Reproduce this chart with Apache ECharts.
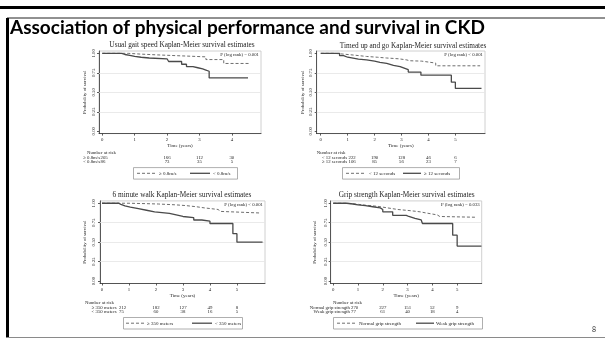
<!DOCTYPE html>
<html><head><meta charset="utf-8">
<script src="https://cdn.jsdelivr.net/npm/echarts@6/dist/echarts.min.js"></script>
<style>html,body{margin:0;padding:0;background:#fff}#c{width:605px;height:343px}</style>
</head><body><div id="c"></div>
<script>
// ---------------- DATA ----------------
const slideTitle = 'Association of physical performance and survival in CKD';
const pageNumber = '8';
const panelTitles = [
  'Usual gait speed Kaplan-Meier survival estimates',
  'Timed up and go Kaplan-Meier survival estimates',
  '6 minute walk Kaplan-Meier survival estimates',
  'Grip strength Kaplan-Meier survival estimates'
];
const pValues = ['P (log rank) = 0.001', 'P (log rank) < 0.001', 'P (log rank) < 0.001', 'P (log rank) = 0.033'];
const groupNames = [
  ['\u2265 0.8m/s', '< 0.8m/s'],
  ['< 12 seconds', '\u2265 12 seconds'],
  ['\u2265 350 meters', '< 350 meters'],
  ['Normal grip strength', 'Weak grip strength']
];
const xTicks = [[0,1,2,3,4],[0,1,2,3,4,5],[0,1,2,3,4,5],[0,1,2,3,4,5]];
const yTicks = [0, 0.25, 0.5, 0.75, 1];
const yTickLabels = ['0.00', '0.25', '0.50', '0.75', '1.00'];
const xAxisTitle = 'Time (years)';
const yAxisTitle = 'Probability of survival';
const riskTitle = 'Number at risk';

// Kaplan-Meier steps: [time, survival after the step]
const gaitFast = [[0,1],[0.8,0.99],[1.2,0.98],[1.7,0.97],[2.3,0.96],[2.9,0.955],[3.2,0.92],[3.75,0.87],[4.57,0.87]];
const gaitSlow = [[0,1],[0.6,0.985],[0.7,0.975],[0.85,0.96],[1.0,0.95],[1.2,0.94],[1.45,0.93],[2.0,0.91],[2.05,0.895],[2.45,0.86],[2.6,0.83],[2.8,0.815],[2.95,0.8],[3.1,0.785],[3.2,0.77],[3.3,0.685],[4.5,0.685]];
const tugFast = [[0,1],[0.5,0.99],[0.85,0.975],[1.3,0.96],[1.7,0.95],[2.1,0.94],[2.45,0.93],[2.9,0.915],[3.2,0.905],[3.3,0.9],[3.75,0.875],[4.27,0.84],[5.92,0.84]];
const tugSlow = [[0,1],[0.7,0.97],[0.85,0.95],[1.0,0.925],[1.4,0.915],[1.7,0.9],[2.0,0.885],[2.2,0.87],[2.45,0.845],[2.7,0.83],[2.95,0.81],[3.1,0.79],[3.25,0.76],[3.72,0.72],[4.85,0.63],[5.0,0.55],[5.97,0.55]];
const walkLong = [[0,1],[1.0,0.995],[1.6,0.99],[2.1,0.98],[2.7,0.97],[3.1,0.955],[3.5,0.94],[3.8,0.92],[4.3,0.895],[4.4,0.875],[5.85,0.875]];
const walkShort = [[0,1],[0.62,0.985],[0.7,0.965],[0.85,0.95],[1.05,0.93],[1.35,0.91],[1.65,0.89],[1.95,0.87],[2.5,0.85],[2.75,0.83],[3.0,0.815],[3.4,0.785],[3.7,0.77],[4.0,0.74],[4.85,0.61],[5.0,0.5],[5.95,0.5]];
const gripNormal = [[0,1],[0.5,0.99],[0.9,0.975],[1.3,0.96],[1.8,0.94],[2.2,0.92],[2.6,0.905],[3.1,0.89],[3.5,0.875],[3.75,0.85],[4.2,0.83],[4.3,0.82],[5.78,0.82]];
const gripWeak = [[0,1],[0.55,0.99],[0.8,0.98],[1.0,0.97],[1.3,0.955],[1.6,0.94],[1.9,0.92],[2.0,0.89],[2.4,0.845],[2.95,0.83],[3.05,0.805],[3.3,0.785],[3.55,0.765],[3.6,0.74],[4.82,0.59],[5.0,0.45],[5.98,0.45]];

// number at risk (first value follows the row label, the rest sit at riskTimes)
const riskTimes = [[2,3,4],[2,3,4,5],[2,3,4,5],[2,3,4,5]];
const gaitFastRisk = [205,166,112,30];
const gaitSlowRisk = [86,73,35,5];
const tugFastRisk = [222,190,128,46,6];
const tugSlowRisk = [106,85,56,23,7];
const walkLongRisk = [212,182,127,49,8];
const walkShortRisk = [75,60,38,16,5];
const gripNormalRisk = [270,227,151,52,9];
const gripWeakRisk = [77,61,40,18,4];

// ---------------- LAYOUT ----------------
const dashedSets = [gaitFast, tugFast, walkLong, gripNormal];
const solidSets = [gaitSlow, tugSlow, walkShort, gripWeak];
const riskSets = [[gaitFastRisk, gaitSlowRisk],[tugFastRisk, tugSlowRisk],[walkLongRisk, walkShortRisk],[gripNormalRisk, gripWeakRisk]];

const P = [
  {left:99,    top:51,    width:162,   height:82.6, xMin:-0.1,   xMax:4.9,  nameGap:11.5, lblMargin:3, title:[182,45.5],
   nar:{x:87, labR:100, first:100.5}, leg:{l:133, r:237, d:[137,157], t1:159, s:[190,210], t2:213}},
  {left:316.7, top:51,    width:168.3, height:82.6, xMin:-0.15,  xMax:6.1,  nameGap:11,   lblMargin:3, title:[413,46],
   nar:{x:316.7, labR:347, first:348.5}, leg:{l:342, r:459, d:[346,366], t1:369, s:[403,421], t2:424}},
  {left:100,   top:200.9, width:165,   height:82.6, xMin:-0.074, xMax:6.04, nameGap:12.5, lblMargin:4, title:[182,195.5],
   nar:{x:85, labR:116.7, first:119}, leg:{l:123, r:242, d:[126,144], t1:147, s:[192,212], t2:215}},
  {left:330.7, top:200.9, width:151,   height:82.6, xMin:-0.1,   xMax:5.99, nameGap:13,   lblMargin:2.5, title:[406.7,195.5],
   nar:{x:333, labR:350, first:351}, leg:{l:333, r:482, d:[337,357], t1:359, s:[416,434], t2:436}}
];

const serif = 'Liberation Serif';
const TXT = '#1e1e1e';
const SMALL = 4.8;

const chart = echarts.init(document.getElementById('c'), null, {renderer: 'canvas'});

const series = [];
P.forEach((p, i) => {
  series.push({
    type: 'line', xAxisIndex: i, yAxisIndex: i, step: 'end', data: dashedSets[i],
    showSymbol: false, symbol: 'none', z: 3,
    lineStyle: {color: '#6e6e6e', width: 1, type: [3, 2]},
    markLine: {silent: true, symbol: 'none', z: 1, label: {show: false},
      lineStyle: {color: '#e4e4e4', width: 0.8, type: 'solid'},
      data: yTicks.filter(v => v > 0 && v < 1).map(v => ({yAxis: v}))}
  });
  series.push({
    type: 'line', xAxisIndex: i, yAxisIndex: i, step: 'end', data: solidSets[i],
    showSymbol: false, symbol: 'none', z: 4,
    lineStyle: {color: '#4a4a4a', width: 1.3, type: 'solid'}
  });
});

chart.setOption({
  animation: false,
  backgroundColor: '#fff',
  grid: P.map(p => ({left: p.left, top: p.top, width: p.width, height: p.height, show: true,
    borderColor: '#c4c4c4', borderWidth: 0.8, backgroundColor: 'transparent', outerBoundsMode: 'none', containLabel: false})),
  xAxis: P.map((p, i) => ({
    type: 'value', gridIndex: i, min: p.xMin, max: p.xMax,
    splitLine: {show: false},
    axisLine: {show: true, onZero: false, lineStyle: {color: '#333', width: 0.8}},
    axisTick: {show: true, customValues: xTicks[i], length: 2, lineStyle: {color: '#333', width: 0.8}},
    axisLabel: {show: true, customValues: xTicks[i], margin: 3.5, fontFamily: serif, fontSize: SMALL, color: TXT,
      formatter: v => String(v)},
    name: xAxisTitle, nameLocation: 'middle', nameGap: 10,
    nameTextStyle: {fontFamily: serif, fontSize: 5, color: TXT}
  })),
  yAxis: P.map((p, i) => ({
    type: 'value', gridIndex: i, min: -0.03, max: 1.03,
    splitLine: {show: false},
    axisLine: {show: true, onZero: false, lineStyle: {color: '#333', width: 0.8}},
    axisTick: {show: true, customValues: yTicks, length: 2, lineStyle: {color: '#333', width: 0.8}},
    axisLabel: {show: true, customValues: yTicks, rotate: 90, margin: p.lblMargin, fontFamily: serif, fontSize: SMALL, color: TXT,
      formatter: v => { const k = yTicks.findIndex(t => Math.abs(t - v) < 1e-6); return k >= 0 ? yTickLabels[k] : ''; }},
    name: yAxisTitle, nameLocation: 'middle', nameGap: p.nameGap, nameRotate: 90,
    nameTextStyle: {fontFamily: serif, fontSize: SMALL, color: TXT}
  })),
  series: series
});

// ---------------- GRAPHICS (slide + risk tables + legends) ----------------
const ctx = document.createElement('canvas').getContext('2d');
ctx.font = 'bold 20px Lato';
const titleSize = 20 * 475 / ctx.measureText(slideTitle).width;

const g = [];
g.push({type: 'rect', shape: {x: 0, y: 6, width: 605, height: 3}, style: {fill: '#000'}, z: 10});
g.push({type: 'line', shape: {x1: 7, y1: 18, x2: 605, y2: 18}, style: {stroke: '#222', lineWidth: 1}, z: 10});
g.push({type: 'rect', shape: {x: 6, y: 18, width: 3, height: 319.5}, style: {fill: '#000'}, z: 10});
g.push({type: 'line', shape: {x1: 7, y1: 337.5, x2: 605, y2: 337.5}, style: {stroke: '#8a8a8a', lineWidth: 1}, z: 10});
g.push({type: 'text', x: 10, y: 27.6, z: 10, style: {text: slideTitle, fontFamily: 'Lato', fontWeight: 'bold', fontSize: titleSize, fill: '#000', align: 'left', verticalAlign: 'middle'}});
g.push({type: 'text', x: 594, y: 330, z: 10, style: {text: pageNumber, fontFamily: 'Lato', fontSize: 7, fill: '#333', align: 'center', verticalAlign: 'middle'}});

P.forEach((p, i) => {
  const fb = p.top + p.height;
  // panel title
  g.push({type: 'text', x: p.title[0], y: p.title[1], style: {text: panelTitles[i], fontFamily: serif, fontSize: 7.3, fill: TXT, align: 'center', verticalAlign: 'middle'}});
  // p value
  g.push({type: 'text', x: p.left + p.width - 2, y: p.top + 3.6, style: {text: pValues[i], fontFamily: serif, fontSize: SMALL, fill: TXT, align: 'right', verticalAlign: 'middle'}});
  // number at risk
  g.push({type: 'text', x: p.nar.x, y: fb + 19, style: {text: riskTitle, fontFamily: serif, fontSize: SMALL, fill: TXT, align: 'left', verticalAlign: 'middle'}});
  const rowY = [fb + 24, fb + 28.5];
  riskSets[i].forEach((vals, r) => {
    g.push({type: 'text', x: p.nar.labR, y: rowY[r], style: {text: groupNames[i][r], fontFamily: serif, fontSize: SMALL, fill: TXT, align: 'right', verticalAlign: 'middle'}});
    g.push({type: 'text', x: p.nar.first, y: rowY[r], style: {text: String(vals[0]), fontFamily: serif, fontSize: SMALL, fill: TXT, align: 'left', verticalAlign: 'middle'}});
    riskTimes[i].forEach((t, k) => {
      const px = chart.convertToPixel({xAxisIndex: i}, t);
      g.push({type: 'text', x: px, y: rowY[r], style: {text: String(vals[k + 1]), fontFamily: serif, fontSize: SMALL, fill: TXT, align: 'center', verticalAlign: 'middle'}});
    });
  });
  // legend
  const L = p.leg, ly = fb + 39.7;
  g.push({type: 'rect', shape: {x: L.l + 0.5, y: fb + 34, width: L.r - L.l, height: 11.5}, style: {fill: 'none', stroke: '#9a9a9a', lineWidth: 0.8}});
  g.push({type: 'line', shape: {x1: L.d[0], y1: ly, x2: L.d[1], y2: ly}, style: {stroke: '#6e6e6e', lineWidth: 1, lineDash: [3, 2]}});
  g.push({type: 'text', x: L.t1, y: ly, style: {text: groupNames[i][0], fontFamily: serif, fontSize: 5, fill: TXT, align: 'left', verticalAlign: 'middle'}});
  g.push({type: 'line', shape: {x1: L.s[0], y1: ly, x2: L.s[1], y2: ly}, style: {stroke: '#4a4a4a', lineWidth: 1.3}});
  g.push({type: 'text', x: L.t2, y: ly, style: {text: groupNames[i][1], fontFamily: serif, fontSize: 5, fill: TXT, align: 'left', verticalAlign: 'middle'}});
});

chart.setOption({graphic: g});
</script>
</body></html>
